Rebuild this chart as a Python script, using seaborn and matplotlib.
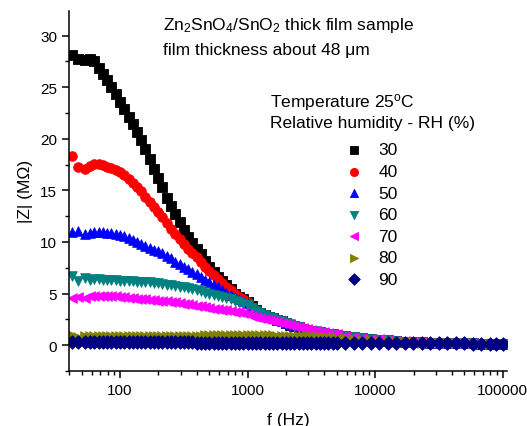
import matplotlib
matplotlib.use("Agg")
import matplotlib.pyplot as plt
import numpy as np
import seaborn as sns
from matplotlib.ticker import FuncFormatter, LogLocator, MultipleLocator, NullFormatter

# frequency points, Hz
freq_hz = [42, 47, 53, 58.3, 63.0, 68.0, 73.4, 79.3, 85.6, 92.5,
           100, 108, 117, 126, 136, 147, 158, 171, 185, 200,
           215, 233, 251, 271, 293, 316, 341, 369, 398, 430,
           464, 501, 541, 584, 631, 681, 736, 794, 858, 926,
           1000, 1080, 1166, 1259, 1359, 1468, 1585, 1711, 1848, 1995,
           2154, 2326, 2512, 2712, 2929, 3162, 3415, 3687, 3981, 4299,
           4642, 5012, 5843, 6813, 7943, 9261, 10798, 12589, 14678, 17113,
           19953, 23263, 27123, 31623, 36869, 42987, 50119, 58434, 68129, 79433,
           89125, 100000]

# |Z| in MOhm for each relative humidity
z_rh30 = [28.1, 27.7, 27.6, 27.7, 27.5, 26.9, 26.3, 25.7, 25.0, 24.3,
          23.6, 22.9, 22.1, 21.4, 20.7, 19.9, 19.0, 18.0, 17.1, 16.2,
          15.3, 14.3, 13.5, 12.7, 11.9, 11.2, 10.5, 9.9, 9.3, 8.8,
          8.2, 7.6, 7.1, 6.6, 6.2, 5.8, 5.4, 5.0, 4.7, 4.45,
          4.2, 3.75, 3.4, 3.15, 2.95, 2.75, 2.6, 2.45, 2.3, 2.15,
          2.0, 1.85, 1.72, 1.6, 1.5, 1.4, 1.32, 1.24, 1.17, 1.1,
          1.04, 0.98, 0.87, 0.77, 0.68, 0.6, 0.52, 0.45, 0.39, 0.34,
          0.3, 0.27, 0.24, 0.22, 0.2, 0.19, 0.18, 0.17, 0.15, 0.14,
          0.13, 0.11]
z_rh40 = [18.3, 17.3, 17.1, 17.4, 17.6, 17.6, 17.5, 17.3, 17.2, 17.0,
          16.8, 16.5, 16.1, 15.7, 15.3, 14.9, 14.4, 13.9, 13.4, 12.9,
          12.4, 11.8, 11.3, 10.8, 10.3, 9.8, 9.3, 8.9, 8.5, 8.1,
          7.6, 7.2, 6.8, 6.4, 6.0, 5.6, 5.3, 5.0, 4.7, 4.45,
          4.2, 3.72, 3.38, 3.14, 2.94, 2.75, 2.6, 2.45, 2.3, 2.15,
          2.0, 1.85, 1.72, 1.6, 1.5, 1.4, 1.32, 1.24, 1.17, 1.1,
          1.04, 0.98, 0.87, 0.77, 0.68, 0.6, 0.52, 0.45, 0.39, 0.34,
          0.3, 0.27, 0.24, 0.22, 0.2, 0.19, 0.18, 0.17, 0.15, 0.14,
          0.13, 0.11]
z_rh50 = [11.0, 11.1, 10.8, 10.9, 11.0, 11.0, 11.0, 10.9, 10.9, 10.8,
          10.7, 10.6, 10.4, 10.2, 10.0, 9.8, 9.6, 9.4, 9.25, 9.1,
          8.9, 8.6, 8.4, 8.1, 7.9, 7.6, 7.35, 7.1, 6.88, 6.65,
          6.35, 6.1, 5.8, 5.6, 5.35, 5.1, 4.9, 4.65, 4.45, 4.25,
          4.05, 3.7, 3.38, 3.15, 2.95, 2.76, 2.61, 2.46, 2.31, 2.16,
          2.01, 1.86, 1.73, 1.61, 1.5, 1.41, 1.33, 1.25, 1.18, 1.11,
          1.05, 0.99, 0.88, 0.78, 0.69, 0.61, 0.53, 0.46, 0.4, 0.35,
          0.31, 0.27, 0.24, 0.22, 0.2, 0.19, 0.18, 0.17, 0.15, 0.14,
          0.13, 0.11]
z_rh60 = [6.7, 6.2, 6.5, 6.3, 6.4, 6.4, 6.35, 6.33, 6.3, 6.28,
          6.25, 6.23, 6.2, 6.18, 6.16, 6.14, 6.12, 6.1, 6.04, 5.98,
          5.92, 5.86, 5.8, 5.74, 5.68, 5.6, 5.5, 5.4, 5.3, 5.2,
          5.1, 5.0, 4.9, 4.8, 4.7, 4.58, 4.45, 4.3, 4.15, 4.0,
          3.85, 3.6, 3.35, 3.15, 2.95, 2.76, 2.61, 2.46, 2.31, 2.16,
          2.01, 1.86, 1.73, 1.61, 1.5, 1.41, 1.33, 1.25, 1.18, 1.11,
          1.05, 0.99, 0.88, 0.78, 0.69, 0.61, 0.53, 0.46, 0.4, 0.35,
          0.31, 0.27, 0.24, 0.22, 0.2, 0.19, 0.18, 0.17, 0.15, 0.14,
          0.13, 0.11]
z_rh70 = [4.6, 4.7, 4.6, 4.75, 4.8, 4.8, 4.8, 4.77, 4.75, 4.72,
          4.68, 4.64, 4.6, 4.56, 4.52, 4.48, 4.44, 4.4, 4.36, 4.32,
          4.28, 4.24, 4.2, 4.15, 4.1, 4.03, 3.96, 3.89, 3.82, 3.75,
          3.68, 3.61, 3.54, 3.48, 3.42, 3.36, 3.3, 3.24, 3.18, 3.1,
          3.0, 2.85, 2.75, 2.65, 2.55, 2.45, 2.35, 2.25, 2.15, 2.05,
          1.95, 1.85, 1.75, 1.65, 1.55, 1.47, 1.39, 1.31, 1.24, 1.17,
          1.1, 1.04, 0.93, 0.82, 0.72, 0.63, 0.55, 0.48, 0.41, 0.36,
          0.31, 0.27, 0.24, 0.22, 0.2, 0.19, 0.18, 0.17, 0.15, 0.14,
          0.13, 0.1]
z_rh80 = [0.95, 0.82, 0.9, 0.84, 0.85, 0.86, 0.86, 0.86, 0.87, 0.87,
          0.87, 0.88, 0.88, 0.88, 0.89, 0.89, 0.89, 0.9, 0.9, 0.9,
          0.9, 0.91, 0.91, 0.91, 0.92, 0.92, 0.92, 0.93, 0.93, 0.93,
          0.94, 0.94, 0.94, 0.95, 0.95, 0.95, 0.95, 0.95, 0.95, 0.95,
          0.95, 0.95, 0.95, 0.95, 0.95, 0.94, 0.94, 0.93, 0.93, 0.92,
          0.92, 0.91, 0.9, 0.89, 0.88, 0.86, 0.84, 0.82, 0.8, 0.77,
          0.74, 0.71, 0.65, 0.59, 0.53, 0.47, 0.42, 0.37, 0.33, 0.3,
          0.27, 0.25, 0.23, 0.21, 0.2, 0.19, 0.18, 0.17, 0.15, 0.14,
          0.13, 0.11]
z_rh90 = [0.28, 0.31, 0.28, 0.27, 0.27, 0.27, 0.27, 0.27, 0.27, 0.27,
          0.27, 0.27, 0.26, 0.26, 0.26, 0.26, 0.26, 0.26, 0.26, 0.26,
          0.26, 0.26, 0.26, 0.26, 0.26, 0.26, 0.26, 0.26, 0.25, 0.25,
          0.25, 0.25, 0.25, 0.25, 0.25, 0.25, 0.25, 0.25, 0.25, 0.25,
          0.25, 0.25, 0.25, 0.25, 0.25, 0.24, 0.24, 0.24, 0.24, 0.24,
          0.24, 0.24, 0.24, 0.24, 0.23, 0.23, 0.23, 0.23, 0.23, 0.23,
          0.22, 0.22, 0.22, 0.22, 0.21, 0.21, 0.21, 0.2, 0.2, 0.2,
          0.19, 0.19, 0.18, 0.18, 0.17, 0.17, 0.16, 0.15, 0.14, 0.13,
          0.12, 0.1]

rh_labels = ["30", "40", "50", "60", "70", "80", "90"]
rh_series = [z_rh30, z_rh40, z_rh50, z_rh60, z_rh70, z_rh80, z_rh90]
rh_colors = ["#000000", "#FF0000", "#0000FF", "#008080", "#FF00FF", "#808000", "#000080"]
rh_markers = ["s", "o", "^", "v", "<", ">", "D"]

sns.set_theme(style="ticks")
plt.rcParams["font.family"] = ["Liberation Sans", "DejaVu Sans"]
plt.rcParams["mathtext.fontset"] = "custom"
plt.rcParams["mathtext.rm"] = "Liberation Sans"
plt.rcParams["mathtext.it"] = "Liberation Sans:italic"
plt.rcParams["text.color"] = "black"
plt.rcParams["axes.labelcolor"] = "black"
plt.rcParams["axes.edgecolor"] = "black"
plt.rcParams["xtick.color"] = "black"
plt.rcParams["ytick.color"] = "black"

TEXT_SIZE = 12.5

fig = plt.figure(figsize=(5.27, 4.27), dpi=100)
ax = fig.add_axes([0.131, 0.129, 0.831, 0.843])

for label, values, color, marker in zip(rh_labels, rh_series, rh_colors, rh_markers):
    sns.scatterplot(x=freq_hz, y=values, color=color, marker=marker, s=48,
                    edgecolor=color, linewidth=0.6, label=label, ax=ax)

ax.set_xscale("log")
ax.set_xlim(39.8, 108000)
ax.set_ylim(-2.5, 32.4)

ax.set_xticks([100, 1000, 10000, 100000])
ax.xaxis.set_major_formatter(FuncFormatter(lambda v, _: f"{v:.0f}"))
ax.xaxis.set_minor_locator(LogLocator(base=10, subs=np.arange(2, 10)))
ax.xaxis.set_minor_formatter(NullFormatter())
ax.yaxis.set_major_locator(MultipleLocator(5))
ax.yaxis.set_minor_locator(MultipleLocator(2.5))

sns.despine(ax=ax)
for side in ["left", "bottom"]:
    ax.spines[side].set_linewidth(1.1)
ax.tick_params(which="major", direction="out", length=5, width=1.1, labelsize=11)
ax.tick_params(which="minor", direction="out", length=3, width=1.0)

ax.set_xlabel("f (Hz)", fontsize=TEXT_SIZE, labelpad=11)
ax.set_ylabel("|Z| (M\u03a9)", fontsize=TEXT_SIZE, labelpad=5)

ax.text(0.2146, 0.95, r"Zn$_2$SnO$_4$/SnO$_2$ thick film sample",
        transform=ax.transAxes, fontsize=TEXT_SIZE, va="baseline")
ax.text(0.2146, 0.881, "film thickness about 48 \u03bcm",
        transform=ax.transAxes, fontsize=TEXT_SIZE, va="baseline")
ax.text(0.459, 0.736, r"Temperature 25$^\mathrm{o}$C",
        transform=ax.transAxes, fontsize=TEXT_SIZE, va="baseline")
ax.text(0.459, 0.678, "Relative humidity - RH (%)",
        transform=ax.transAxes, fontsize=TEXT_SIZE, va="baseline")

ax.legend(loc="upper left", bbox_to_anchor=(0.611, 0.635), frameon=False,
          fontsize=TEXT_SIZE, handlelength=2, handletextpad=0.4,
          labelspacing=0.37, borderpad=0, borderaxespad=0, markerscale=0.85)

fig.savefig("out.png", dpi=100)
